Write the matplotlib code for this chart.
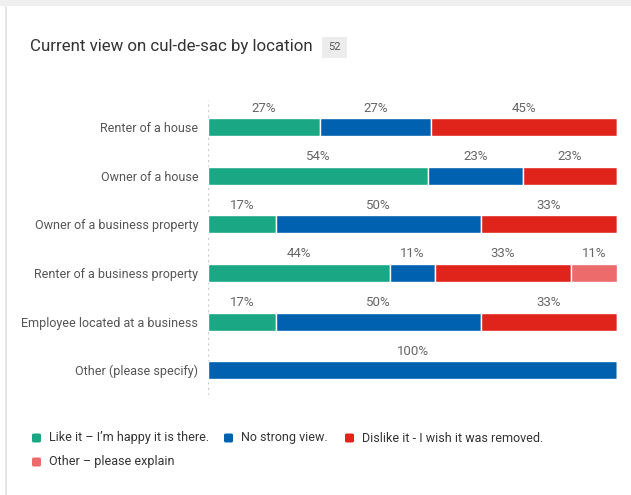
import matplotlib.pyplot as plt
from matplotlib.patches import Rectangle, FancyBboxPatch

plt.rcParams['font.family'] = ['Roboto', 'DejaVu Sans']

# data
categories = [
    "Renter of a house",
    "Owner of a house",
    "Owner of a business property",
    "Renter of a business property",
    "Employee located at a business",
    "Other (please specify)",
]
series_names = [
    "Like it \u2013 I\u2019m happy it is there.",
    "No strong view.",
    "Dislike it - I wish it was removed.",
    "Other \u2013 please explain",
]
like_it = [27.3, 53.8, 16.7, 44.4, 16.7, 0]
no_view = [27.3, 23.1, 50.0, 11.1, 50.0, 100]
dislike = [45.4, 23.1, 33.3, 33.3, 33.3, 0]
other = [0, 0, 0, 11.1, 0, 0]
colors = ["#1aa784", "#0061b0", "#e0241b", "#ee6b6b"]
title = "Current view on cul-de-sac by location"
total_n = "52"

W, H = 631, 495
fig = plt.figure(figsize=(W / 100, H / 100), dpi=100)
fig.patch.set_facecolor("white")

# card border (top strip + left line)
fig.add_artist(Rectangle((0, 1 - 6 / H), 1, 6 / H, transform=fig.transFigure,
                         facecolor="#efefef", edgecolor="none"))
fig.add_artist(Rectangle((5 / W, 0), 1.5 / W, 1 - 6 / H, transform=fig.transFigure,
                         facecolor="#e6e6e6", edgecolor="none"))

ax = fig.add_axes([208 / W, 1 - 395 / H, (617 - 208) / W, 295 / H])
ax.set_xlim(0, 100)
ax.set_ylim(5.51, -0.556)

series = [like_it, no_view, dislike, other]
ypos = list(range(len(categories)))
left = [0] * len(categories)
for vals, col in zip(series, colors):
    ax.barh(ypos, vals, left=left, height=0.37, color=col,
            edgecolor="white", linewidth=1)
    for i, v in enumerate(vals):
        if v > 0:
            ax.text(left[i] + v / 2, i - 0.39, f"{v:.0f}%", ha="center",
                    va="center", fontsize=9.5, color="#666666")
    left = [l + v for l, v in zip(left, vals)]

ax.axvline(0, color="#cccccc", linestyle=(0, (1.5, 2.5)), linewidth=1, zorder=0)
ax.set_yticks(ypos)
ax.set_yticklabels(categories, fontsize=9, color="#555555")
ax.tick_params(axis="y", length=0, pad=7)
ax.set_xticks([])
for s in ax.spines.values():
    s.set_visible(False)

# title + count badge
fig.text(30 / W, 1 - 47 / H, title, fontsize=12.2, color="#333333",
         ha="left", va="center")
fig.add_artist(Rectangle((322 / W, 1 - 58 / H), 25 / W, 21 / H,
                         transform=fig.transFigure, facecolor="#ececec",
                         edgecolor="none"))
fig.text(334.5 / W, 1 - 47.5 / H, total_n, fontsize=8, color="#555555",
         ha="center", va="center")

# legend
leg_pos = [(32, 438), (224, 438), (345, 438), (32, 462)]
for (lx, ly), name, col in zip(leg_pos, series_names, colors):
    fig.add_artist(FancyBboxPatch((lx / W, 1 - (ly + 4.5) / H), 9 / W, 9 / H,
                                  boxstyle="round,pad=0,rounding_size=0.003",
                                  transform=fig.transFigure, facecolor=col,
                                  edgecolor="none"))
    fig.text((lx + 17) / W, 1 - ly / H, name, fontsize=9, color="#333333",
             ha="left", va="center")

fig.savefig("out.png", dpi=100)
